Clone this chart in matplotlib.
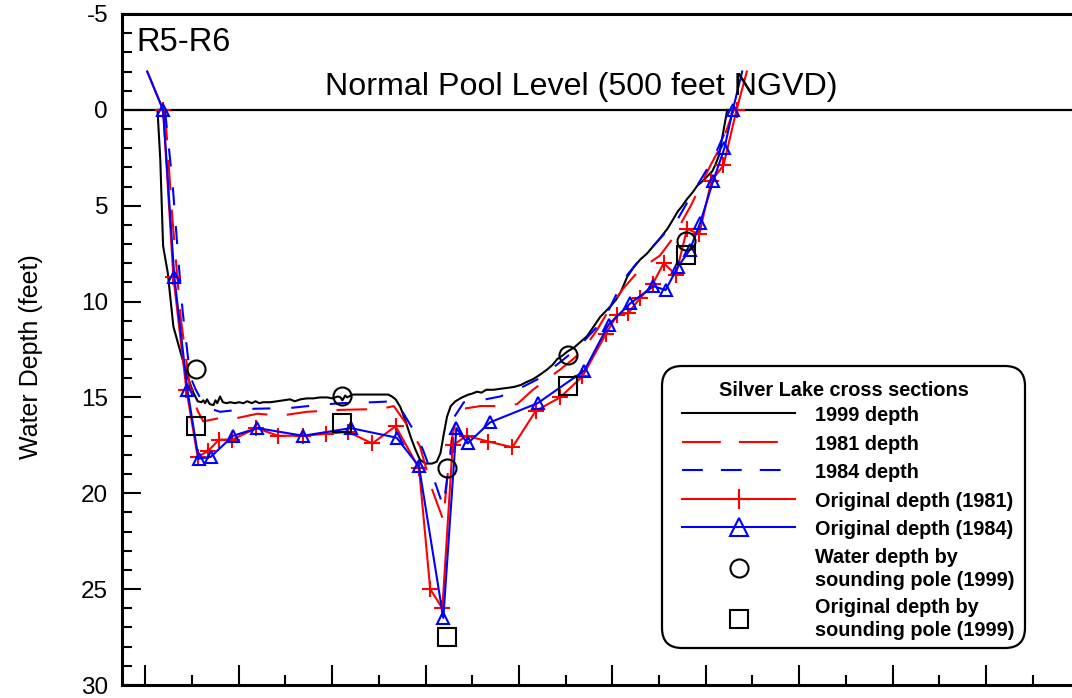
import numpy as np
import matplotlib
matplotlib.use("Agg")
import matplotlib.pyplot as plt
from matplotlib.lines import Line2D
from matplotlib.patches import FancyBboxPatch
from matplotlib.transforms import IdentityTransform

plt.rcParams['font.family'] = ['Liberation Sans', 'DejaVu Sans']
plt.rcParams['axes.unicode_minus'] = False
plt.rcParams['lines.scale_dashes'] = False

# station across the section (ft) and depth below normal pool (ft)
d99_x = [13, 16, 19, 24, 30, 38, 45, 51, 56, 60, 62, 64, 66, 69, 73, 75, 77, 80, 83, 87,
         91, 96, 100, 105, 109, 114, 118, 122, 126, 134, 141, 148, 155, 160, 166, 173, 180,
         187, 195, 200, 206, 209, 211, 214, 216, 222, 230, 238, 245, 252, 260, 264, 268,
         273, 278, 284, 289, 294, 300, 307, 312, 316, 319, 323, 327, 332, 339, 346, 350,
         355, 360, 365, 373, 380, 388, 395, 402, 408, 415, 423, 430, 436, 441, 447, 452,
         459, 466, 473, 480, 487, 493, 498, 504, 509, 516, 523, 530, 537, 544, 551, 559,
         564, 570, 575, 580, 586, 591, 597, 602, 607, 610, 614, 618, 623]
d99_y = [0.0, 2.6, 7.1, 8.5, 11.3, 12.7, 13.9, 14.7, 15.2, 15.25, 15.15, 15.3, 15.1, 15.35,
         15.4, 15.15, 15.3, 14.95, 15.25, 15.3, 15.25, 15.3, 15.25, 15.3, 15.2, 15.3, 15.2,
         15.3, 15.25, 15.25, 15.2, 15.15, 15.1, 15.2, 15.1, 15.05, 15.05, 15.0, 15.0, 15.05,
         14.95, 15.0, 15.15, 14.9, 15.0, 14.85, 14.85, 14.85, 14.85, 14.85, 14.85, 14.95,
         15.1, 15.5, 16.15, 17.05, 17.7, 18.25, 18.45, 18.45, 18.35, 17.9, 17.05, 16.0,
         15.45, 15.2, 15.0, 14.85, 14.8, 14.7, 14.75, 14.6, 14.6, 14.55, 14.5, 14.45, 14.35,
         14.2, 14.05, 13.8, 13.55, 13.3, 13.0, 12.8, 12.6, 12.4, 12.1, 11.8, 11.3, 10.8,
         10.5, 10.25, 9.9, 9.5, 8.7, 8.2, 7.8, 7.5, 7.1, 6.7, 6.2, 5.8, 5.3, 5.0, 4.65, 4.3,
         3.95, 3.7, 3.45, 3.2, 2.9, 2.4, 1.35, 0.0]

d81_x = [21, 29, 38, 48, 56, 62, 77, 91, 120, 145, 173, 209, 252, 266, 284, 294, 307, 319,
         323, 328, 333, 339, 359, 380, 398, 415, 430, 444, 458, 469, 484, 501, 512, 530,
         551, 564, 584, 605, 616, 630]
d81_y = [0.0, 5.7, 10.9, 14.6, 15.7, 16.25, 16.1, 16.15, 15.85, 15.95, 15.75, 15.65, 15.6,
         15.45, 16.7, 17.55, 19.8, 21.4, 19.3, 17.2, 16.05, 15.6, 15.45, 15.45, 15.35, 14.6,
         14.05, 13.55, 13.0, 12.5, 11.45, 10.05, 9.3, 8.3, 7.6, 6.75, 5.0, 2.9, 1.9, 0.0]

d84_x = [21, 29, 35, 40, 48, 54, 64, 80, 109, 155, 184, 209, 244, 266, 276, 287, 297, 311,
         319, 321, 327, 331, 341, 359, 380, 402, 420, 434, 452, 466, 484, 495, 512, 527,
         541, 570, 584, 597, 608, 619, 629]
d84_y = [0.0, 3.75, 7.6, 10.55, 13.9, 14.6, 15.5, 15.75, 15.6, 15.55, 15.4, 15.3, 15.25,
         15.2, 15.8, 16.7, 17.7, 19.55, 20.7, 20.0, 17.9, 16.0, 15.25, 15.15, 14.95, 14.5,
         14.05, 13.55, 12.85, 12.25, 11.3, 10.55, 8.85, 7.95, 7.25, 5.7, 4.5, 3.45, 2.55,
         1.35, 0.0]

orig81_x = [2, 19, 30, 44, 56, 67, 79, 93, 119, 142, 169, 193, 217, 243, 268, 293, 305, 318,
            329, 344, 367, 393, 418, 444, 468, 493, 505, 517, 530, 543, 555, 568, 580, 593,
            606, 619, 633, 644]
orig81_y = [-2.0, 0.0, 8.7, 14.6, 18.1, 17.8, 17.2, 17.2, 16.6, 17.0, 17.0, 16.9, 16.8, 17.4,
            16.5, 18.7, 25.0, 26.0, 17.5, 17.0, 17.3, 17.6, 15.7, 15.0, 13.9, 11.7, 10.7,
            10.6, 9.8, 9.1, 8.0, 8.6, 6.2, 6.5, 3.7, 2.9, 0.0, -2.0]

orig84_x = [2, 19, 31, 45, 57, 70, 94, 120, 169, 220, 269, 293, 319, 333, 345, 369, 420, 470,
            496, 519, 544, 557, 570, 583, 594, 608, 620, 629, 639]
orig84_y = [-2.0, 0.0, 8.7, 14.6, 18.2, 18.1, 17.0, 16.6, 17.0, 16.6, 17.1, 18.6, 26.5, 16.6,
            17.4, 16.3, 15.3, 13.6, 11.2, 10.1, 9.2, 9.4, 8.2, 7.3, 5.9, 3.7, 2.0, 0.0, -2.0]

pole_x = [54, 211, 323, 453, 579]
pole_water_y = [13.5, 14.95, 18.7, 12.8, 6.85]
pole_orig_y = [16.5, 16.35, 27.5, 14.4, 7.55]

labels = ['1999 depth', '1981 depth', '1984 depth', 'Original depth (1981)',
          'Original depth (1984)', 'Water depth by\nsounding pole (1999)',
          'Original depth by\nsounding pole (1999)']

fig = plt.figure(figsize=(10.72, 6.98), dpi=100)
ax = fig.add_axes([122 / 1072, 13 / 698, 980.7 / 1072, 671 / 698])

ax.axhline(0, color='black', lw=1.6, zorder=1)
ax.plot(d99_x, d99_y, color='black', lw=1.5, zorder=2)
ax.plot(d81_x, d81_y, color='red', lw=1.5, ls=(0, (22, 14)), zorder=2)
ax.plot(d84_x, d84_y, color='blue', lw=1.5, ls=(0, (13, 15)), zorder=2)

# original bottom profiles, markers only on surveyed points (not the bank ends)
ax.plot(orig81_x, orig81_y, color='red', lw=1.5, zorder=3)
ax.plot(orig81_x[1:-1], orig81_y[1:-1], ls='none', marker='+', ms=11, mew=1.5,
        color='red', zorder=3)
ax.plot(orig84_x, orig84_y, color='blue', lw=1.5, zorder=3)
ax.plot(orig84_x[1:-1], orig84_y[1:-1], ls='none', marker='^', ms=9, mew=1.5,
        mfc='none', mec='blue', zorder=3)

ax.plot(pole_x, pole_water_y, ls='none', marker='o', ms=13, mew=1.5, mfc='none',
        mec='black', zorder=4)
ax.plot(pole_x, pole_orig_y, ls='none', marker='s', ms=13, mew=1.5, mfc='none',
        mec='black', zorder=4)

ax.set_xlim(-25, 1025)
ax.set_ylim(30, -5)
ax.set_xticks(np.arange(0, 1001, 100))
ax.set_xticks(np.arange(50, 1001, 100), minor=True)
ax.set_yticks(np.arange(-5, 31, 5))
ax.set_yticks(np.arange(-5, 31, 1), minor=True)
ax.tick_params(axis='y', which='major', direction='in', length=13.5, width=1.5,
               labelsize=17.5, pad=10)
ax.tick_params(axis='y', which='minor', direction='in', length=7, width=1.5)
ax.tick_params(axis='x', which='major', direction='in', length=14.5, width=1.5,
               labelbottom=False)
ax.tick_params(axis='x', which='minor', direction='in', length=7, width=1.5)
for s in ax.spines.values():
    s.set_linewidth(2.2)

ax.text(-10, -3.08, 'R5-R6', fontsize=23.5, va='baseline')
ax.text(192, -0.78, 'Normal Pool Level (500 feet NGVD)', fontsize=23.2, va='baseline')
fig.text(31 / 1072, 1 - 357 / 698, 'Water Depth (feet)', rotation=90,
         ha='center', va='center', fontsize=18)

# legend with its own rounded frame
handles = [
    Line2D([], [], color='black', lw=1.5),
    Line2D([], [], color='red', lw=1.5, ls=(0, (28, 13))),
    Line2D([], [], color='blue', lw=1.5, ls=(0, (15, 13))),
    Line2D([], [], color='red', lw=1.5, marker='+', ms=14, mew=1.5),
    Line2D([], [], color='blue', lw=1.5, marker='^', ms=13, mew=1.5, mfc='none'),
    Line2D([], [], ls='none', marker='o', ms=13, mew=1.5, mfc='none', mec='black'),
    Line2D([], [], ls='none', marker='s', ms=13, mew=1.5, mfc='none', mec='black'),
]
ax.add_patch(FancyBboxPatch((662, 698 - 648), 363, 282,
                            boxstyle='round,pad=0,rounding_size=20',
                            transform=IdentityTransform(), fc='white', ec='black',
                            lw=1.6, zorder=4.5, clip_on=False))
leg = ax.legend(handles, labels, loc='upper left',
                bbox_to_anchor=(682 / 1072, 1 - 405 / 698),
                bbox_transform=fig.transFigure, frameon=False,
                prop={'weight': 'bold', 'size': 14.3}, handlelength=5.7,
                handleheight=1.1, handletextpad=1.0, labelspacing=0.415,
                borderpad=0, borderaxespad=0, numpoints=1)
for t in leg.get_texts():
    t.set_linespacing(1.28)
fig.text(843.5 / 1072, 1 - 390 / 698, 'Silver Lake cross sections', ha='center',
         va='center', fontsize=14.3, fontweight='bold')

fig.savefig('out.png', dpi=100)
